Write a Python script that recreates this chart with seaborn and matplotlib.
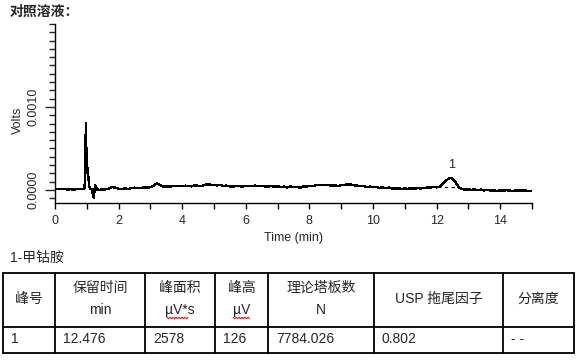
import numpy as np
import seaborn as sns
import matplotlib.pyplot as plt
from matplotlib.ticker import MultipleLocator, FixedLocator

# chromatogram trace (time in min, signal in microvolts)
time_min = [0.0, 0.1, 0.2, 0.3, 0.4, 0.5, 0.6, 0.7, 0.8, 0.9,
            0.93, 0.95, 0.97, 0.99, 1.0, 1.02, 1.05, 1.08, 1.12, 1.16,
            1.2, 1.22, 1.24, 1.26, 1.29, 1.33, 1.4,
            1.5, 1.6, 1.7, 1.8, 1.9, 2.0, 2.1, 2.2, 2.3, 2.4,
            2.5, 2.6, 2.7, 2.8, 2.9, 3.0, 3.1, 3.2, 3.3, 3.4,
            3.5, 3.6, 3.7, 3.8, 3.9, 4.0, 4.1, 4.2, 4.3, 4.4,
            4.5, 4.6, 4.7, 4.8, 4.9, 5.0, 5.1, 5.2, 5.3, 5.4,
            5.5, 5.6, 5.7, 5.8, 5.9, 6.0, 6.1, 6.2, 6.3, 6.4,
            6.5, 6.6, 6.7, 6.8, 6.9, 7.0, 7.1, 7.2, 7.3, 7.4,
            7.5, 7.6, 7.7, 7.8, 7.9, 8.0, 8.1, 8.2, 8.3, 8.4,
            8.5, 8.6, 8.7, 8.8, 8.9, 9.0, 9.1, 9.2, 9.3, 9.4,
            9.5, 9.6, 9.7, 9.8, 9.9, 10.0, 10.1, 10.2, 10.3, 10.4,
            10.5, 10.6, 10.7, 10.8, 10.9, 11.0, 11.1, 11.2, 11.3, 11.4,
            11.5, 11.6, 11.7, 11.8, 11.9, 12.0, 12.1, 12.2, 12.3, 12.4,
            12.5, 12.6, 12.7, 12.8, 12.9, 13.0, 13.1, 13.2, 13.3, 13.4,
            13.5, 13.6, 13.7, 13.8, 13.9, 14.0, 14.1, 14.2, 14.3, 14.4,
            14.5, 14.6, 14.7, 14.8, 14.9, 15.0]
signal_uv = [8, 14, 10, 12, 6, 10, 4, 12, 9, 14,
             20, 240, 810, 300, 500, 220, 150, 40, 10, 5,
             -60, -100, -20, 60, 40, 5, 2,
             5, 8, 18, 35, 28, 15, 10, 18, 12, 22,
             28, 20, 25, 30, 28, 35, 48, 78, 60, 42,
             45, 40, 48, 45, 50, 46, 52, 48, 44, 55,
             50, 48, 58, 70, 62, 60, 56, 58, 50, 52,
             44, 40, 48, 46, 42, 50, 45, 48, 52, 46,
             50, 44, 42, 48, 38, 45, 35, 40, 30, 42,
             32, 38, 28, 40, 42, 48, 45, 58, 60, 62,
             58, 60, 52, 55, 48, 58, 62, 68, 65, 58,
             52, 45, 48, 35, 40, 32, 38, 25, 30, 22,
             28, 18, 15, 20, 12, 18, 14, 20, 16, 22,
             18, 25, 28, 30, 34, 32, 40, 75, 112, 145,
             138, 90, 30, 10, 5, 8, 2, 5, -2, 4,
             -5, 0, -8, -4, -12, -6, -10, -2, -8, -14,
             -6, -10, -4, -8, -12, -10]

peak_time = 12.47
peak_label = "1"
baseline_t = [12.05, 12.75]
baseline_uv = [32, 28]

# result table
hdr_top = ["峰号", "保留时间", "峰面积", "峰高", "理论塔板数", "USP 拖尾因子", "分离度"]
hdr_unit = ["", "min", "µV*s", "µV", "N", "", ""]
row_vals = ["1", "12.476", "2578", "126", "7784.026", "0.802", "- -"]

sns.set_style("ticks")
plt.rcParams['font.family'] = ['Liberation Sans', 'Noto Sans CJK SC', 'DejaVu Sans']

fig = plt.figure(figsize=(5.83, 3.62), dpi=100)
ax = fig.add_axes([55 / 583, 1 - 203 / 362, 477 / 583, 179 / 362])

volts = [v / 1e6 for v in signal_uv]
sns.lineplot(x=time_min, y=volts, ax=ax, color="black", lw=1.0, antialiased=False)
ax.plot(baseline_t, [v / 1e6 for v in baseline_uv], color="black", lw=0.8, ls=(0, (3, 3)))
ax.text(peak_time, 0.0003, peak_label, ha="center", va="center", fontsize=9)

ax.set_xlim(0, 15)
ax.set_ylim(-0.000157, 0.0020)
ax.xaxis.set_major_locator(FixedLocator([0, 2, 4, 6, 8, 10, 12, 14]))
ax.xaxis.set_minor_locator(FixedLocator([1, 3, 5, 7, 9, 11, 13, 15]))
ax.yaxis.set_major_locator(FixedLocator([0.0, 0.001]))
ax.yaxis.set_minor_locator(MultipleLocator(0.0001))
ax.set_yticklabels(["0.0000", "0.0010"])
ax.tick_params(axis="x", which="both", length=4, width=1, labelsize=9, pad=5, color="black")
ax.tick_params(axis="y", which="major", length=7, width=1, labelsize=9, pad=4, labelrotation=90)
ax.tick_params(axis="y", which="minor", length=4, width=1)
for lab in ax.get_yticklabels():
    lab.set_va("center")
ax.set_xlabel("")
ax.set_ylabel("")
sns.despine(ax=ax)
for s in ["left", "bottom"]:
    ax.spines[s].set_linewidth(1)
    ax.spines[s].set_color("black")

# overlay in pixel coordinates for labels and table
ov = fig.add_axes([0, 0, 1, 1], zorder=5)
ov.set_xlim(0, 583)
ov.set_ylim(362, 0)
ov.axis("off")
ov.patch.set_visible(False)

ov.text(10, 12, "对照溶液：", fontsize=10, fontweight="bold", ha="left", va="center")
ov.text(18, 120, "Volts", fontsize=9, rotation=90, ha="center", va="center")
ov.text(293, 238, "Time (min)", fontsize=9, ha="center", va="center")
ov.text(10, 258, "1-甲钴胺", fontsize=10, ha="left", va="center")

col_edges = [3, 55, 145, 215, 268, 374, 503, 574]
row_edges = [273, 327, 353]
for y in row_edges:
    ov.plot([col_edges[0], col_edges[-1]], [y, y], color="black", lw=1.3)
for x in col_edges:
    ov.plot([x, x], [row_edges[0], row_edges[-1]], color="black", lw=1.3)

for i, (top, unit, val) in enumerate(zip(hdr_top, hdr_unit, row_vals)):
    cx = (col_edges[i] + col_edges[i + 1]) / 2
    if unit:
        ov.text(cx, 288, top, fontsize=10, ha="center", va="center")
        ov.text(cx, 310, unit, fontsize=10, ha="center", va="center")
    else:
        ov.text(cx, 299, top, fontsize=10, ha="center", va="center")
    ov.text(col_edges[i] + 8, 339, val, fontsize=10, ha="left", va="center")

# red spell-check squiggles under the micro-volt units
for x0, x1 in [(167, 188), (233, 250)]:
    xs = np.arange(x0, x1 + 1, 1.5)
    ys = 318 + np.where(np.arange(len(xs)) % 2 == 0, -0.8, 0.8)
    ov.plot(xs, ys, color="red", lw=0.7)

fig.savefig("out.png", dpi=100)
